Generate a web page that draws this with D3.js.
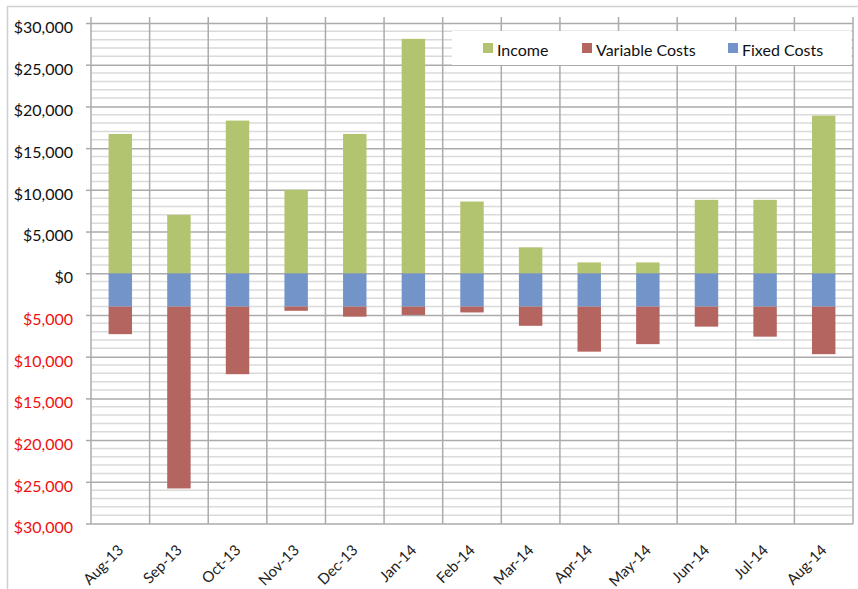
<!DOCTYPE html>
<html>
<head>
<meta charset="utf-8">
<script src="https://cdn.jsdelivr.net/npm/d3@7"></script>
<style>
  body { margin: 0; background: #fff; }
  text { font-family: Lato, "Liberation Sans", Arial, sans-serif; }
</style>
</head>
<body>
<div id="chart"></div>
<script>
// chart data
const months = ["Aug-13", "Sep-13", "Oct-13", "Nov-13", "Dec-13", "Jan-14", "Feb-14",
                "Mar-14", "Apr-14", "May-14", "Jun-14", "Jul-14", "Aug-14"];
const income = [16700, 7000, 18300, 10000, 16700, 28100, 8600, 3100, 1300, 1300, 8800, 8800, 18900];
const variableCosts = [3300, 21800, 8100, 500, 1200, 1000, 700, 2300, 5400, 4500, 2400, 3600, 5700];
const fixedCosts = [4000, 4000, 4000, 4000, 4000, 4000, 4000, 4000, 4000, 4000, 4000, 4000, 4000];
const yTicks = [30000, 25000, 20000, 15000, 10000, 5000, 0, -5000, -10000, -15000, -20000, -25000, -30000];
const seriesNames = ["Income", "Variable Costs", "Fixed Costs"];

const W = 858, H = 589;
const margin = {top: 23, right: 5, bottom: 65, left: 91};

const colors = {income: "#b3c471", variable: "#b5655f", fixed: "#7394c8"};

const svg = d3.select("#chart").append("svg")
    .attr("width", W)
    .attr("height", H);

// outer chart frame
svg.append("rect")
    .attr("x", 7.5).attr("y", 6.5)
    .attr("width", W + 10).attr("height", H + 10)
    .attr("fill", "none")
    .attr("stroke", "#d0d0d0")
    .attr("stroke-width", 1.5);

const x = d3.scaleBand()
    .domain(months)
    .range([margin.left, W - margin.right])
    .paddingInner(0.6)
    .paddingOuter(0.3);

const y = d3.scaleLinear()
    .domain([-30000, 30000])
    .range([H - margin.bottom - 0.5, margin.top]);

// minor horizontal gridlines every 1000
const minor = d3.range(-30000, 30001, 1000).filter(v => v % 5000 !== 0);
svg.append("g")
    .selectAll("line")
    .data(minor)
    .join("line")
    .attr("x1", margin.left).attr("x2", W - margin.right)
    .attr("y1", d => y(d)).attr("y2", d => y(d))
    .attr("stroke", "#dadada")
    .attr("stroke-width", 1.5);

// major horizontal gridlines + tick labels via axis
const yAxis = svg.append("g")
    .attr("transform", `translate(${margin.left},0)`)
    .call(d3.axisLeft(y)
        .tickValues(yTicks)
        .tickSize(-(W - margin.right - margin.left))
        .tickSizeOuter(0)
        .tickPadding(18)
        .tickFormat(d => "$" + d3.format(",")(Math.abs(d))));
yAxis.select(".domain").remove();
yAxis.selectAll(".tick line")
    .attr("stroke", "#ababab")
    .attr("stroke-width", 1.5)
    .attr("x2", -5);
yAxis.selectAll(".tick line").clone()
    .attr("x1", 0)
    .attr("x2", W - margin.right - margin.left);
yAxis.selectAll(".tick text")
    .attr("font-size", 16)
    .attr("dy", "0.9em")
    .attr("y", -5)
    .attr("fill", d => d < 0 ? "#ee1111" : "#111");

// vertical gridlines at category boundaries
const step = x.step();
const bounds = months.map(m => x(m) + x.bandwidth() / 2 - step / 2);
bounds.push(bounds[bounds.length - 1] + step);
svg.append("g")
    .selectAll("line")
    .data(bounds)
    .join("line")
    .attr("x1", d => d).attr("x2", d => d)
    .attr("y1", margin.top - 6).attr("y2", H - margin.bottom)
    .attr("stroke", "#ababab")
    .attr("stroke-width", 1.5);

// stacked bars: income up, fixed then variable downward
const rows = months.map((m, i) => ({
    month: m,
    income: income[i],
    fixed: -fixedCosts[i],
    variable: -variableCosts[i]
}));

const stack = d3.stack()
    .keys(["fixed", "variable", "income"])
    .offset(d3.stackOffsetDiverging);

const series = stack(rows);

svg.append("g")
    .selectAll("g")
    .data(series)
    .join("g")
    .attr("fill", d => colors[d.key])
    .selectAll("rect")
    .data(d => d)
    .join("rect")
    .attr("x", d => x(d.data.month))
    .attr("width", x.bandwidth())
    .attr("y", d => y(Math.max(d[0], d[1])))
    .attr("height", d => Math.abs(y(d[0]) - y(d[1])));

// x labels
svg.append("g")
    .selectAll("text")
    .data(months)
    .join("text")
    .attr("transform", d => `translate(${x(d) + x.bandwidth() / 2 + 4},${H - margin.bottom + 27}) rotate(-45)`)
    .attr("text-anchor", "end")
    .attr("font-size", 15)
    .attr("fill", "#222")
    .text(d => d);

// legend
const legend = svg.append("g");
legend.append("rect")
    .attr("x", 452).attr("y", 31)
    .attr("width", 399).attr("height", 34)
    .attr("fill", "#fff");

const legendKeys = ["income", "variable", "fixed"];
const legendX = [483, 582, 728];
const item = legend.selectAll("g.item")
    .data(seriesNames)
    .join("g")
    .attr("class", "item")
    .attr("transform", (d, i) => `translate(${legendX[i]},43)`);
item.append("rect")
    .attr("width", 10).attr("height", 10)
    .attr("fill", (d, i) => colors[legendKeys[i]]);
item.append("text")
    .attr("x", 14).attr("y", 13)
    .attr("font-size", 16)
    .attr("fill", "#111")
    .text(d => d);
</script>
</body>
</html>
